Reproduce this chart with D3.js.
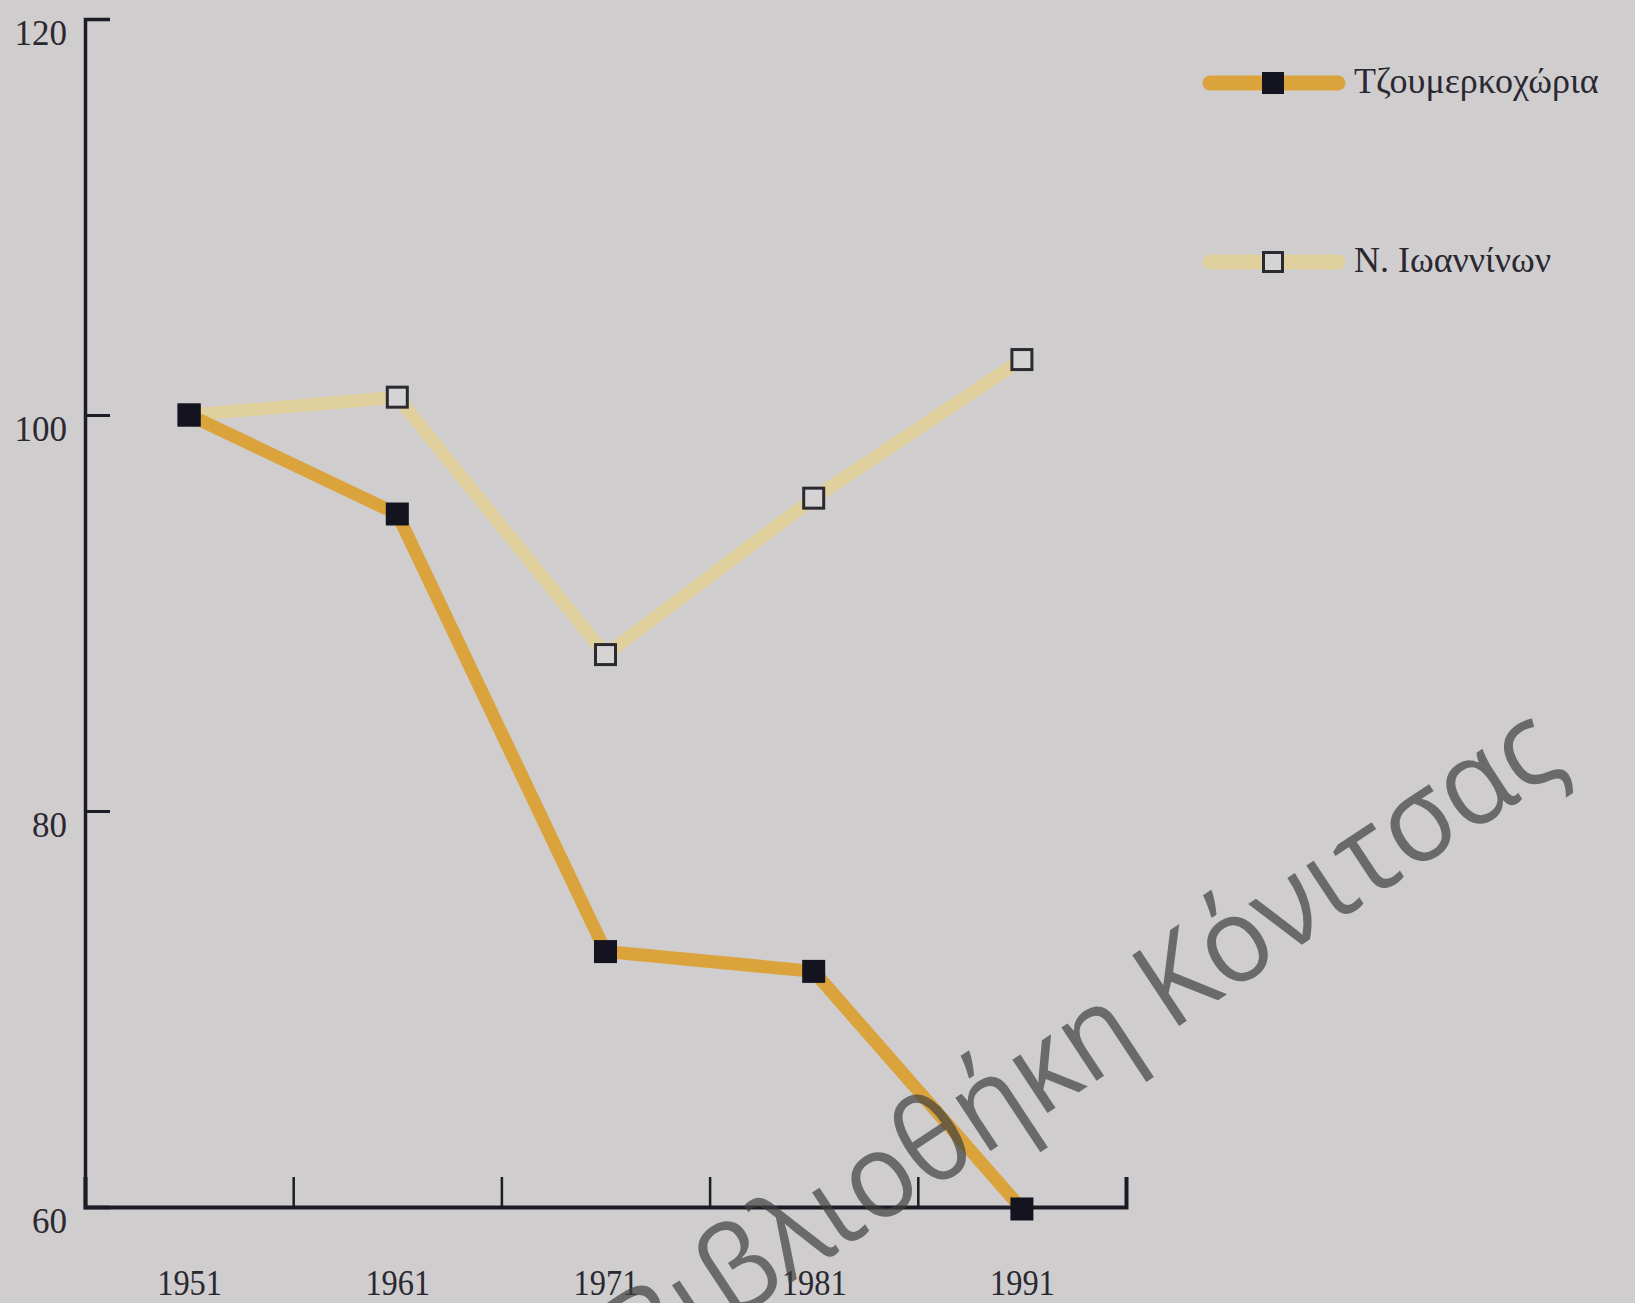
<!DOCTYPE html>
<html>
<head>
<meta charset="utf-8">
<script src="https://cdn.jsdelivr.net/npm/d3@7"></script>
<style>
  html, body { margin: 0; padding: 0; background: #d0cdce; }
  svg { display: block; }
</style>
</head>
<body>
<svg id="chart" width="1635" height="1303"></svg>
<script>
// ---- data ----
const years = [1951, 1961, 1971, 1981, 1991];
const tzoumerkochoria = [100, 95.0, 72.9, 71.9, 59.9];
const nIoanninon = [100, 100.9, 87.9, 95.8, 102.8];
const yTicks = [60, 80, 100, 120];
const xBoundaries = [1956, 1966, 1976, 1986, 1996];
const seriesNames = ["Τζουμερκοχώρια", "N. Ιωαννίνων"];
const watermarkText = "Βιβλιοθήκη Κόνιτσας";

// ---- layout ----
const svg = d3.select("#chart");
const x = d3.scaleLinear().domain([1946, 1996]).range([85, 1126]);
const y = d3.scaleLinear().domain([60, 120]).range([1207, 19]);

const axisColor = "#1d1b26";
const orange = "#dba33b";
const light = "#e0d09d";

// ---- axes ----
const yAxis = svg.append("g")
  .attr("transform", `translate(${x(1946)},0)`)
  .call(d3.axisLeft(y).tickValues(yTicks).tickSize(-25).tickPadding(18).tickFormat(d3.format("d")));
yAxis.select(".domain").attr("stroke", axisColor).attr("stroke-width", 3.5);
yAxis.selectAll(".tick line").attr("stroke", axisColor).attr("stroke-width", 3);
yAxis.selectAll(".tick text")
  .attr("dy", 25)
  .attr("fill", "#2a2830")
  .style("font-family", "'Liberation Serif', 'DejaVu Serif', serif")
  .style("font-size", "35px");

const xAxis = svg.append("g")
  .attr("transform", `translate(0,${y(60)})`)
  .call(d3.axisBottom(x).tickValues(xBoundaries).tickSize(-30).tickSizeOuter(-30).tickFormat(""));
xAxis.select(".domain").attr("stroke", axisColor).attr("stroke-width", 4);
xAxis.selectAll(".tick line").attr("stroke", axisColor).attr("stroke-width", 2.5);

const xLabels = svg.append("g")
  .attr("transform", `translate(0,${y(60)})`)
  .call(d3.axisBottom(x).tickValues(years).tickSize(0).tickPadding(0).tickFormat(d3.format("d")));
xLabels.select(".domain").remove();
xLabels.selectAll(".tick text")
  .attr("y", 88)
  .attr("dy", 0)
  .attr("transform", "scale(0.9,1)")
  .attr("fill", "#2a2830")
  .style("font-family", "'Liberation Serif', 'DejaVu Serif', serif")
  .style("font-size", "36px");

// ---- lines ----
const line = d3.line().x((d, i) => x(years[i])).y(d => y(d));
svg.append("path").datum(nIoanninon)
  .attr("d", line).attr("fill", "none")
  .attr("stroke", light).attr("stroke-width", 13).attr("stroke-linejoin", "round");
svg.append("path").datum(tzoumerkochoria)
  .attr("d", line).attr("fill", "none")
  .attr("stroke", orange).attr("stroke-width", 13).attr("stroke-linejoin", "round");

const ms = 23;
svg.append("g").selectAll("rect").data(nIoanninon).join("rect")
  .attr("x", (d, i) => x(years[i]) - ms / 2 + 1.5)
  .attr("y", d => y(d) - ms / 2 + 1.5)
  .attr("width", ms - 3).attr("height", ms - 3)
  .attr("fill", "#d6d3d4").attr("stroke", "#2b2a30").attr("stroke-width", 3);
svg.append("g").selectAll("rect").data(tzoumerkochoria).join("rect")
  .attr("x", (d, i) => x(years[i]) - ms / 2)
  .attr("y", d => y(d) - ms / 2)
  .attr("width", ms).attr("height", ms)
  .attr("fill", "#141320");

// ---- legend ----
const legendY = [83, 262];
const legend = svg.append("g");
seriesNames.forEach((name, i) => {
  const g = legend.append("g").attr("transform", `translate(0,${legendY[i]})`);
  g.append("line").attr("x1", 1210).attr("x2", 1338).attr("y1", 0).attr("y2", 0)
    .attr("stroke", i === 0 ? orange : light).attr("stroke-width", 15).attr("stroke-linecap", "round");
  if (i === 0) {
    g.append("rect").attr("x", 1262).attr("y", -11).attr("width", 22).attr("height", 22).attr("fill", "#141320");
  } else {
    g.append("rect").attr("x", 1263.5).attr("y", -9.5).attr("width", 19).attr("height", 19)
      .attr("fill", "#d6d3d4").attr("stroke", "#2b2a30").attr("stroke-width", 3);
  }
  g.append("text").attr("x", 1354).attr("y", 10)
    .attr("fill", "#2a2830")
    .style("font-family", "'Liberation Serif', 'DejaVu Serif', serif")
    .style("font-size", "36px")
    .text(name);
});

// ---- watermark ----
const wm = svg.append("g").attr("transform", "translate(1170,1032) rotate(-33.5) scale(0.94,1)");
const wt = wm.append("text")
  .attr("fill", "#404040").attr("fill-opacity", 0.7)
  .style("font-family", "'Open Sans', 'Noto Sans', sans-serif")
  .style("font-size", "119px")
  .text(watermarkText);
const off = wt.node().getSubStringLength(0, 11);
wt.attr("x", -off);
</script>
</body>
</html>
